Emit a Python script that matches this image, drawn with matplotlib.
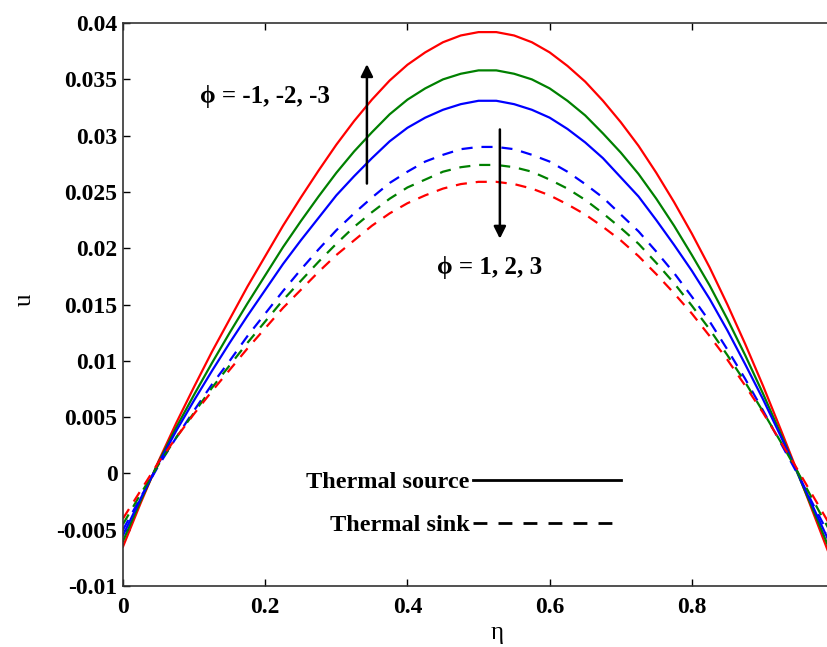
import numpy as np
import matplotlib
matplotlib.use('Agg')
import matplotlib.pyplot as plt
from matplotlib.lines import Line2D

# data
eta = [0.000, 0.025, 0.050, 0.075, 0.100, 0.125, 0.150, 0.175, 0.200, 0.225,
       0.250, 0.275, 0.300, 0.325, 0.350, 0.375, 0.400, 0.425, 0.450, 0.475,
       0.500, 0.525, 0.550, 0.575, 0.600, 0.625, 0.650, 0.675, 0.700, 0.725,
       0.750, 0.775, 0.800, 0.825, 0.850, 0.875, 0.900, 0.925, 0.950, 0.975, 1.000]

# thermal source (solid), phi = -1, -2, -3
u_src_red = [-0.0065, -0.0026, 0.0011, 0.0045, 0.0077, 0.0108, 0.0137, 0.0166, 0.0193, 0.0220,
             0.0245, 0.0269, 0.0292, 0.0313, 0.0332, 0.0349, 0.0363, 0.0374, 0.0383, 0.0389,
             0.0392, 0.0392, 0.0389, 0.0383, 0.0374, 0.0362, 0.0348, 0.0331, 0.0312, 0.0291,
             0.0267, 0.0241, 0.0213, 0.0183, 0.0150, 0.0115, 0.0078, 0.0039, -0.0001, -0.0042, -0.0083]
u_src_green = [-0.0060, -0.0024, 0.0010, 0.0041, 0.0070, 0.0098, 0.0125, 0.0151, 0.0176, 0.0201,
               0.0224, 0.0246, 0.0267, 0.0286, 0.0303, 0.0319, 0.0332, 0.0342, 0.0350, 0.0355,
               0.0358, 0.0358, 0.0355, 0.0350, 0.0342, 0.0331, 0.0318, 0.0302, 0.0285, 0.0266,
               0.0244, 0.0220, 0.0194, 0.0167, 0.0137, 0.0105, 0.0071, 0.0035, -0.0002, -0.0039, -0.0077]
u_src_blue = [-0.0055, -0.0022, 0.0009, 0.0038, 0.0065, 0.0091, 0.0116, 0.0140, 0.0163, 0.0186,
              0.0207, 0.0227, 0.0247, 0.0264, 0.0280, 0.0295, 0.0307, 0.0316, 0.0323, 0.0328,
              0.0331, 0.0331, 0.0328, 0.0323, 0.0316, 0.0306, 0.0294, 0.0280, 0.0263, 0.0246,
              0.0225, 0.0203, 0.0180, 0.0155, 0.0127, 0.0097, 0.0066, 0.0033, -0.0001, -0.0036, -0.0070]

# thermal sink (dashed), phi = 1, 2, 3
u_snk_blue = [-0.0050, -0.0021, 0.0007, 0.0032, 0.0056, 0.0079, 0.0100, 0.0122, 0.0142, 0.0162,
              0.0181, 0.0199, 0.0216, 0.0231, 0.0245, 0.0258, 0.0268, 0.0277, 0.0283, 0.0288,
              0.0290, 0.0290, 0.0288, 0.0283, 0.0277, 0.0268, 0.0257, 0.0245, 0.0230, 0.0215,
              0.0197, 0.0178, 0.0157, 0.0135, 0.0110, 0.0084, 0.0056, 0.0027, -0.0002, -0.0033, -0.0063]
u_snk_green = [-0.0045, -0.0018, 0.0008, 0.0032, 0.0054, 0.0076, 0.0096, 0.0116, 0.0135, 0.0154,
               0.0171, 0.0188, 0.0204, 0.0219, 0.0232, 0.0244, 0.0254, 0.0261, 0.0268, 0.0272,
               0.0274, 0.0274, 0.0272, 0.0268, 0.0261, 0.0253, 0.0243, 0.0231, 0.0218, 0.0204,
               0.0187, 0.0169, 0.0149, 0.0128, 0.0105, 0.0081, 0.0055, 0.0028, 0.0000, -0.0029, -0.0058]
u_snk_red = [-0.0040, -0.0015, 0.0010, 0.0032, 0.0053, 0.0073, 0.0092, 0.0111, 0.0129, 0.0147,
             0.0163, 0.0179, 0.0194, 0.0207, 0.0220, 0.0231, 0.0240, 0.0247, 0.0253, 0.0257,
             0.0259, 0.0259, 0.0257, 0.0253, 0.0247, 0.0239, 0.0230, 0.0219, 0.0207, 0.0193,
             0.0177, 0.0160, 0.0142, 0.0122, 0.0101, 0.0078, 0.0054, 0.0028, 0.0002, -0.0025, -0.0052]

xticks = [0, 0.2, 0.4, 0.6, 0.8, 1.0]
xtick_labels = ['0', '0.2', '0.4', '0.6', '0.8', '']   # '1' falls outside the cropped figure
yticks = [-0.01, -0.005, 0, 0.005, 0.01, 0.015, 0.02, 0.025, 0.03, 0.035, 0.04]
ytick_labels = ['-0.01', '-0.005', '0', '0.005', '0.01', '0.015', '0.02', '0.025', '0.03', '0.035', '0.04']

plt.rcParams['font.family'] = ['Liberation Serif', 'DejaVu Serif']
plt.rcParams['font.weight'] = 'bold'

fig = plt.figure(figsize=(8.28, 6.47), dpi=100)
ax = fig.add_axes([0.1486, 0.0943, 0.8587, 0.870])

lw = 1.6
dash = (0, (5, 4))
ax.plot(eta, u_src_red, color='red', lw=lw)
ax.plot(eta, u_src_green, color='green', lw=lw)
ax.plot(eta, u_src_blue, color='blue', lw=lw)
ax.plot(eta, u_snk_blue, color='blue', lw=lw, linestyle=dash)
ax.plot(eta, u_snk_green, color='green', lw=lw, linestyle=dash)
ax.plot(eta, u_snk_red, color='red', lw=lw, linestyle=dash)

ax.set_xlim(0, 1)
ax.set_ylim(-0.01, 0.04)
ax.set_xticks(xticks)
ax.set_xticklabels(xtick_labels)
ax.set_yticks(yticks)
ax.set_yticklabels(ytick_labels)
ax.tick_params(direction='in', length=5, width=1, top=True, right=True, labelsize=17)
ax.tick_params(axis='x', pad=8)
ax.tick_params(axis='y', pad=4)
for s in ax.spines.values():
    s.set_linewidth(1.2)
    s.set_color('#333333')

ax.set_xlabel('η', fontsize=18, labelpad=3)
ax.xaxis.label.set_x(0.526)
ax.set_ylabel('u', fontsize=18, labelpad=15)
ax.yaxis.label.set_y(0.508)

# arrows and annotations
ax.annotate('', xy=(0.343, 0.0366), xytext=(0.343, 0.0255),
            arrowprops=dict(arrowstyle='-|>', color='black', lw=1.8, mutation_scale=18))
ax.annotate('', xy=(0.530, 0.0206), xytext=(0.530, 0.0308),
            arrowprops=dict(arrowstyle='-|>', color='black', lw=1.8, mutation_scale=18))
ax.text(0.108, 0.0335, 'ϕ = -1, -2, -3', fontsize=18, va='center', ha='left')
ax.text(0.441, 0.0183, 'ϕ = 1, 2, 3', fontsize=18, va='center', ha='left')

handles = [Line2D([], [], color='black', lw=2.0),
           Line2D([], [], color='black', lw=2.0, linestyle=dash)]
ax.legend(handles, ['Thermal source', 'Thermal sink'], loc='center', bbox_to_anchor=(0.479, 0.146),
          frameon=False, markerfirst=False, handlelength=6.1, handletextpad=0.15,
          fontsize=17.5, labelspacing=0.85, alignment='right')

fig.savefig('out.png', dpi=100)
